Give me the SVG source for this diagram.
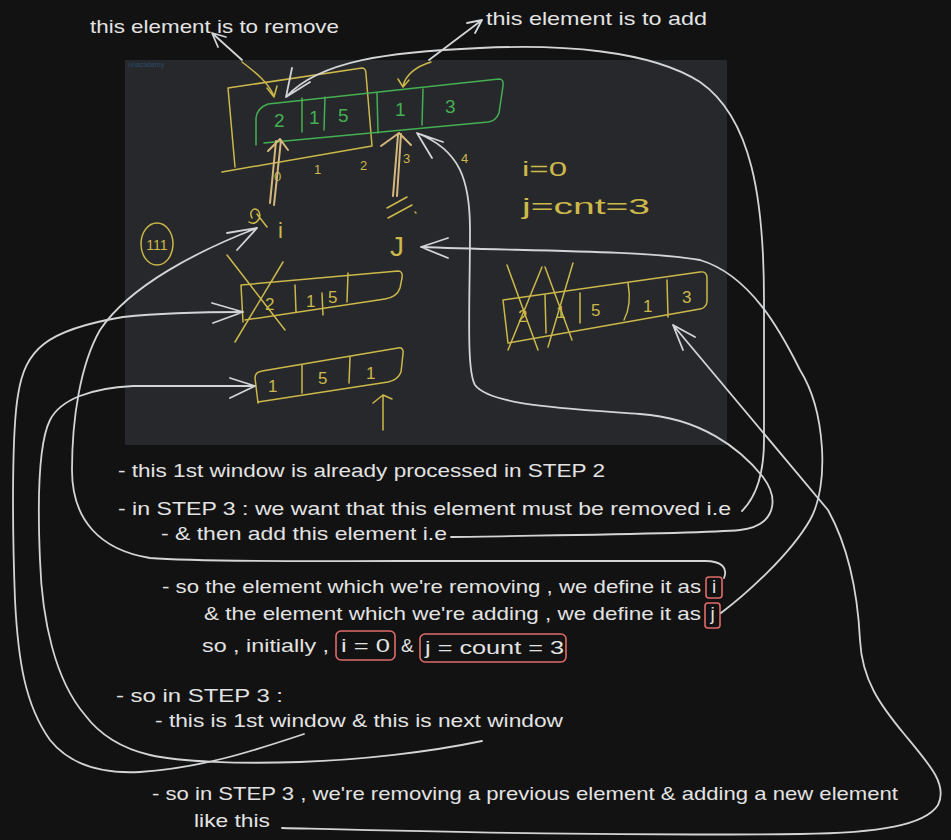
<svg xmlns="http://www.w3.org/2000/svg" width="951" height="840" viewBox="0 0 951 840">
<style>
.t{font-family:"Liberation Sans",Arial,sans-serif;fill:#e3e3e3;font-size:19px}
.c{fill:none;stroke:#d2d4d6;stroke-width:1.8;stroke-linecap:round;stroke-linejoin:round}
.y{fill:none;stroke:#cdb84a;stroke-width:1.5;stroke-linecap:round;stroke-linejoin:round}
.tan{fill:none;stroke:#d6b87e;stroke-width:2;stroke-linecap:round;stroke-linejoin:round}
.g{fill:none;stroke:#45b052;stroke-width:1.5;stroke-linecap:round;stroke-linejoin:round}
.yt{font-family:"Liberation Sans",Arial,sans-serif;fill:#cdb84a}
.gt{font-family:"Liberation Sans",Arial,sans-serif;fill:#45b052;font-size:19px}
.r{fill:none;stroke:#e06c6c;stroke-width:1.6}
</style>
<rect x="0" y="0" width="951" height="840" fill="#121212"/>
<g id="screenshot">
<rect x="125" y="60" width="602" height="385" fill="#26282b"/>
<text x="128" y="67" font-family="Liberation Sans,Arial,sans-serif" font-size="7" fill="#2c4a6e">unacademy</text>
<path class="y" d="M228,88 L362,68 Q366,68 366,74 L372,146 L222,172 M235,167 L228,88"/>
<path class="g" d="M256,145 L256,118 Q257,108 268,104 L499,79 Q504,79 503,86 L499,113 Q496,121 488,122 L264,143"/>
<path class="g" d="M302,98 L302,132 M325,97 L324,130 M377,93 L378,133 M423,89 L422,125"/>
<text class="gt" x="274" y="127">2</text>
<text class="gt" x="309" y="124">1</text>
<text class="gt" x="338" y="122">5</text>
<text class="gt" x="395" y="116">1</text>
<text class="gt" x="445" y="113">3</text>
<text class="yt" font-size="13" x="274" y="181">0</text>
<text class="yt" font-size="13" x="314" y="174">1</text>
<text class="yt" font-size="13" x="360" y="170">2</text>
<text class="yt" font-size="13" x="403" y="163">3</text>
<text class="yt" font-size="13" x="461" y="163">4</text>
<path class="tan" d="M270,203 L276,141 M274,205 L281,140 M268,151 L280,139 L288,150"/>
<path class="tan" d="M393,196 L398,135 M397,196 L401,134 M381,146 L399,133 L411,145"/>
<path class="y" d="M252,218 C 248,210 256,206 259,212 C 262,219 255,226 249,222 M257,214 L267,227"/>
<text class="yt" font-size="22" x="278" y="238">i</text>
<path class="y" d="M387,208 L407,197 M388,218 L412,205 M415,212 L416,213"/>
<text class="yt" font-size="28" x="390" y="256">J</text>
<ellipse class="y" cx="157" cy="244" rx="16" ry="21"/>
<text class="yt" font-size="14" x="157" y="250" text-anchor="middle">111</text>
<path class="y" d="M243,322 L241,285 L398,271 Q403,271 402,278 L400,288 Q397,297 385,299 L245,320"/>
<path class="y" d="M295,285 L296,312 M322,293 L323,315 M348,273 L347,302"/>
<text class="yt" font-size="17" x="265" y="310">2</text>
<text class="yt" font-size="17" x="306" y="307">1</text>
<text class="yt" font-size="17" x="328" y="303">5</text>
<path class="y" d="M227,255 L285,330 M283,262 L235,342"/>
<path class="y" d="M258,403 L255,378 Q255,372 262,371 L398,348 Q404,347 403,354 L401,372 Q398,380 388,382 L258,402"/>
<path class="y" d="M302,365 L302,393 M350,357 L349,383"/>
<text class="yt" font-size="17" x="268" y="392">1</text>
<text class="yt" font-size="17" x="318" y="384">5</text>
<text class="yt" font-size="17" x="366" y="379">1</text>
<path class="y" d="M383,430 L383,396 M373,403 L383,395 L392,399"/>
<path class="y" d="M503,300 L700,272 Q707,271 707,278 L707,302 Q706,308 700,309 L508,343 L503,300"/>
<path class="y" d="M545,295 L546,333 M580,293 L580,323 M628,283 Q632,305 624,320 M667,280 L668,317"/>
<text class="yt" font-size="17" x="518" y="322">2</text>
<text class="yt" font-size="17" x="556" y="318">1</text>
<text class="yt" font-size="17" x="591" y="316">5</text>
<text class="yt" font-size="17" x="643" y="312">1</text>
<text class="yt" font-size="17" x="682" y="303">3</text>
<path class="y" d="M507,265 L538,350 M542,267 L508,350 M545,267 L572,340 M573,263 L548,347"/>
<text class="yt" font-size="20" x="522" y="176" textLength="45" lengthAdjust="spacingAndGlyphs">i=0</text>
<text class="yt" font-size="22" x="522" y="214" textLength="128" lengthAdjust="spacingAndGlyphs">j=cnt=3</text>
<path class="y" d="M242,62 C 255,72 268,82 274,96 M267,88 L274,97 L277,86"/>
<path class="y" d="M431,62 C 418,66 406,74 403,86 M398,79 L403,87 L409,80"/>
</g>
<g id="labels">
<text id="t-remove" class="t" font-size="20" x="90" y="33" textLength="249" lengthAdjust="spacingAndGlyphs">this element is to remove</text>
<text id="t-add" class="t" font-size="20" x="486" y="25" textLength="221" lengthAdjust="spacingAndGlyphs">this element is to add</text>
<text id="t1" class="t" x="118" y="477" textLength="487" lengthAdjust="spacingAndGlyphs">- this 1st window is already processed in STEP 2</text>
<text id="t2" class="t" x="118" y="515" textLength="613" lengthAdjust="spacingAndGlyphs">- in STEP 3 : we want that this element must be removed i.e</text>
<text id="t3" class="t" x="161" y="540" textLength="286" lengthAdjust="spacingAndGlyphs">- &amp; then add this element i.e</text>
<text id="t4" class="t" x="162" y="593" textLength="539" lengthAdjust="spacingAndGlyphs">- so the element which we're removing , we define it as</text>
<g id="box-i"><rect class="r" x="706" y="577" width="16" height="21" rx="3"/><text class="t" x="714" y="593" text-anchor="middle">i</text></g>
<text id="t5" class="t" x="204" y="620" textLength="497" lengthAdjust="spacingAndGlyphs">&amp; the element which we're adding , we define it as</text>
<g id="box-j"><rect class="r" x="705" y="603" width="15" height="25" rx="3"/><text class="t" x="712.5" y="620" text-anchor="middle">j</text></g>
<text id="t6" class="t" x="202" y="652" textLength="127" lengthAdjust="spacingAndGlyphs">so , initially ,</text>
<g id="box-i0"><rect class="r" x="336" y="631" width="59" height="29" rx="5"/><text class="t" x="341" y="652" textLength="49" lengthAdjust="spacingAndGlyphs">i = 0</text></g>
<text id="t-amp" class="t" x="401" y="652">&amp;</text>
<g id="box-j3"><rect class="r" x="420" y="634" width="146" height="28" rx="5"/><text class="t" x="425" y="654" textLength="139" lengthAdjust="spacingAndGlyphs">j = count = 3</text></g>
<text id="t7" class="t" x="116" y="702" textLength="167" lengthAdjust="spacingAndGlyphs">- so in STEP 3 :</text>
<text id="t8" class="t" x="155" y="727" textLength="408" lengthAdjust="spacingAndGlyphs">- this is 1st window &amp; this is next window</text>
<text id="t9" class="t" x="152" y="800" textLength="746" lengthAdjust="spacingAndGlyphs">- so in STEP 3 , we're removing a previous element &amp; adding a new element</text>
<text id="t10" class="t" x="194" y="827" textLength="76" lengthAdjust="spacingAndGlyphs">like this</text>
</g>
<g id="connectors">
<path class="c" d="M242,60 L212,33 M218,47 L212,33 L226,37"/>
<path class="c" d="M429,60 L482,20 M467,23 L482,20 L475,33"/>
<path class="c" d="M742,511 C 756,497 764,475 764,440 L 764,300 C 764,200 752,118 700,82 C 650,50 560,44 480,48 C 390,52 320,60 286,97 M292,68 L286,97 L310,82"/>
<path class="c" d="M451,537 C 560,535 700,534 740,530 C 775,526 780,500 763,477 C 740,448 700,418 640,414 C 560,408 490,405 475,385 C 466,370 470,300 470,230 C 470,180 460,150 417,133 M443,142 L417,133 L432,158"/>
<path class="c" d="M721,613 C 745,595 790,555 810,520 C 830,485 825,410 800,370 C 780,330 750,275 700,260 C 640,250 520,251 421,247 M448,238 L421,247 L448,258"/>
<path class="c" d="M282,828 C 450,832 600,836 800,834 C 880,833 925,825 938,805 C 948,785 930,765 905,735 C 880,705 862,680 860,640 C 858,600 850,550 828,510 L 673,325 M695,337 L673,325 L683,350"/>
<path class="c" d="M724,578 C 728,568 722,561 705,561 L 400,561 C 300,561 200,562 150,558 C 100,550 72,520 72,470 C 72,420 80,365 100,330 C 130,285 200,250 257,228 M227,233 L257,228 L237,250"/>
<path class="c" d="M304,734 C 250,752 200,768 140,772 C 100,774 70,765 50,740 C 25,705 18,660 15,600 C 12,520 12,430 18,395 C 25,350 45,330 123,317 C 170,312 210,312 243,312 M212,303 L243,312 L213,323"/>
<path class="c" d="M482,741 C 430,752 360,760 300,762 C 240,764 180,762 150,755 C 120,748 100,735 85,715 C 55,680 42,620 40,560 C 37,490 40,440 50,420 C 60,400 90,388 133,386 L 255,386 M230,378 L255,386 L230,398"/>
</g>
</svg>
